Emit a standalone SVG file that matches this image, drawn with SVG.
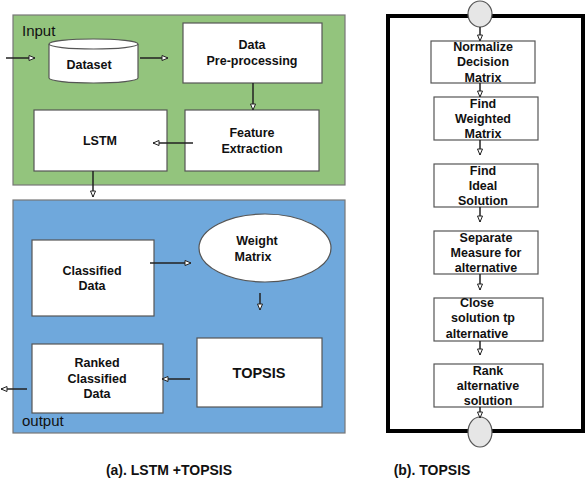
<svg xmlns="http://www.w3.org/2000/svg" width="588" height="492" viewBox="0 0 588 492">
<defs>
<marker id="ah" markerWidth="8" markerHeight="8" refX="7" refY="4" orient="auto" markerUnits="userSpaceOnUse">
<path d="M1,1.5 L7,4 L1,6.5 Z" fill="#fff" stroke="#222" stroke-width="1"/>
</marker>
<style>
.box{fill:#fff;stroke:#555;stroke-width:1.2}
.t{font-family:"Liberation Sans",Arial,sans-serif;font-weight:bold;font-size:12.5px;fill:#111;text-anchor:middle}
.lbl{font-family:"Liberation Sans",Arial,sans-serif;font-size:15px;fill:#111}
.c{stroke:#222;stroke-width:1.5;fill:none;marker-end:url(#ah)}
.circ{fill:#e6e6e6;stroke:#555;stroke-width:1.2}
</style>
</defs>
<rect width="588" height="492" fill="#fff"/>
<g id="panel-a">
<rect id="input-group" x="13" y="15" width="332" height="170" fill="#93c47d" stroke="#777" stroke-width="1.2"/>
<text class="lbl" x="22" y="36">Input</text>
<rect id="output-group" x="13" y="200" width="332" height="233" fill="#6fa8dc" stroke="#777" stroke-width="1.2"/>
<text class="lbl" x="22" y="426">output</text>
</g>
<g id="dataset">
<path d="M49,44 L49,78 A44.5,5 0 0 0 138,78 L138,44" class="box"/>
<ellipse cx="93.5" cy="44" rx="44.5" ry="5" class="box"/>
<text class="t" x="89" y="69">Dataset</text>
</g>
<g id="preprocessing">
<rect class="box" x="183" y="23" width="139" height="60"/>
<text class="t" x="252" y="49">Data</text>
<text class="t" x="252" y="65">Pre-processing</text>
</g>
<g id="feature">
<rect class="box" x="185" y="110" width="134" height="61"/>
<text class="t" x="252" y="137">Feature</text>
<text class="t" x="252" y="153">Extraction</text>
</g>
<g id="lstm">
<rect class="box" x="34" y="110" width="133" height="61"/>
<text class="t" x="100" y="145">LSTM</text>
</g>
<g id="classified">
<rect class="box" x="32" y="240" width="122" height="76"/>
<text class="t" x="92" y="275">Classified</text>
<text class="t" x="92" y="290">Data</text>
</g>
<g id="weight">
<ellipse class="box" cx="265" cy="248" rx="66" ry="34"/>
<text class="t" x="257" y="245">Weight</text>
<text class="t" x="253" y="261">Matrix</text>
</g>
<g id="topsis">
<rect class="box" x="197" y="338" width="125" height="69"/>
<text class="t" x="259" y="378" style="font-size:14.5px">TOPSIS</text>
</g>
<g id="ranked">
<rect class="box" x="32" y="344" width="131" height="69"/>
<text class="t" x="97" y="367">Ranked</text>
<text class="t" x="97" y="383">Classified</text>
<text class="t" x="97" y="398">Data</text>
</g>
<g id="panel-b">
<rect x="388" y="16" width="195" height="415" fill="none" stroke="#000" stroke-width="4"/>
</g>
<g id="start"><ellipse class="circ" cx="480" cy="14" rx="12" ry="13"/></g>
<g id="end"><ellipse class="circ" cx="480" cy="432" rx="12" ry="15"/></g>
<g id="normalize">
<rect class="box" x="431" y="41" width="104" height="42"/>
<text class="t" x="483" y="51">Normalize</text>
<text class="t" x="483" y="66">Decision</text>
<text class="t" x="483" y="82">Matrix</text>
</g>
<g id="weighted">
<rect class="box" x="434" y="97" width="104" height="43"/>
<text class="t" x="483" y="108">Find</text>
<text class="t" x="483" y="123">Weighted</text>
<text class="t" x="483" y="138">Matrix</text>
</g>
<g id="ideal">
<rect class="box" x="434" y="164" width="104" height="43"/>
<text class="t" x="483" y="175">Find</text>
<text class="t" x="483" y="190">Ideal</text>
<text class="t" x="483" y="205">Solution</text>
</g>
<g id="separate">
<rect class="box" x="434" y="231" width="104" height="43"/>
<text class="t" x="486" y="242">Separate</text>
<text class="t" x="486" y="257">Measure for</text>
<text class="t" x="486" y="272">alternative</text>
</g>
<g id="close">
<rect class="box" x="434" y="298" width="109" height="43"/>
<text class="t" x="477" y="307">Close</text>
<text class="t" x="483" y="322">solution tp</text>
<text class="t" x="477" y="338">alternative</text>
</g>
<g id="rank">
<rect class="box" x="434" y="364" width="109" height="43"/>
<text class="t" x="488" y="375">Rank</text>
<text class="t" x="488" y="390">alternative</text>
<text class="t" x="488" y="405">solution</text>
</g>
<g id="connectors">
<line class="c" x1="6" y1="58" x2="35" y2="58"/>
<line class="c" x1="140" y1="58" x2="168" y2="58"/>
<line class="c" x1="253" y1="83" x2="253" y2="110"/>
<line class="c" x1="193" y1="143" x2="153" y2="143"/>
<line class="c" x1="93" y1="171" x2="93" y2="197"/>
<line class="c" x1="150" y1="263" x2="191" y2="263"/>
<line class="c" x1="260" y1="293" x2="260" y2="310"/>
<line class="c" x1="190" y1="379" x2="162" y2="379"/>
<line class="c" x1="27" y1="389" x2="1" y2="389"/>
<line class="c" x1="480" y1="27" x2="480" y2="41"/>
<line class="c" x1="480" y1="83" x2="480" y2="97"/>
<line class="c" x1="480" y1="140" x2="480" y2="155"/>
<line class="c" x1="480" y1="207" x2="480" y2="222"/>
<line class="c" x1="480" y1="274" x2="480" y2="290"/>
<line class="c" x1="480" y1="341" x2="480" y2="355"/>
<line class="c" x1="480" y1="407" x2="480" y2="418"/>
</g>
<g id="captions">
<text class="t" x="169" y="475" style="font-size:14px">(a). LSTM +TOPSIS</text>
<text class="t" x="432" y="475" style="font-size:14px">(b). TOPSIS</text>
</g>
</svg>
